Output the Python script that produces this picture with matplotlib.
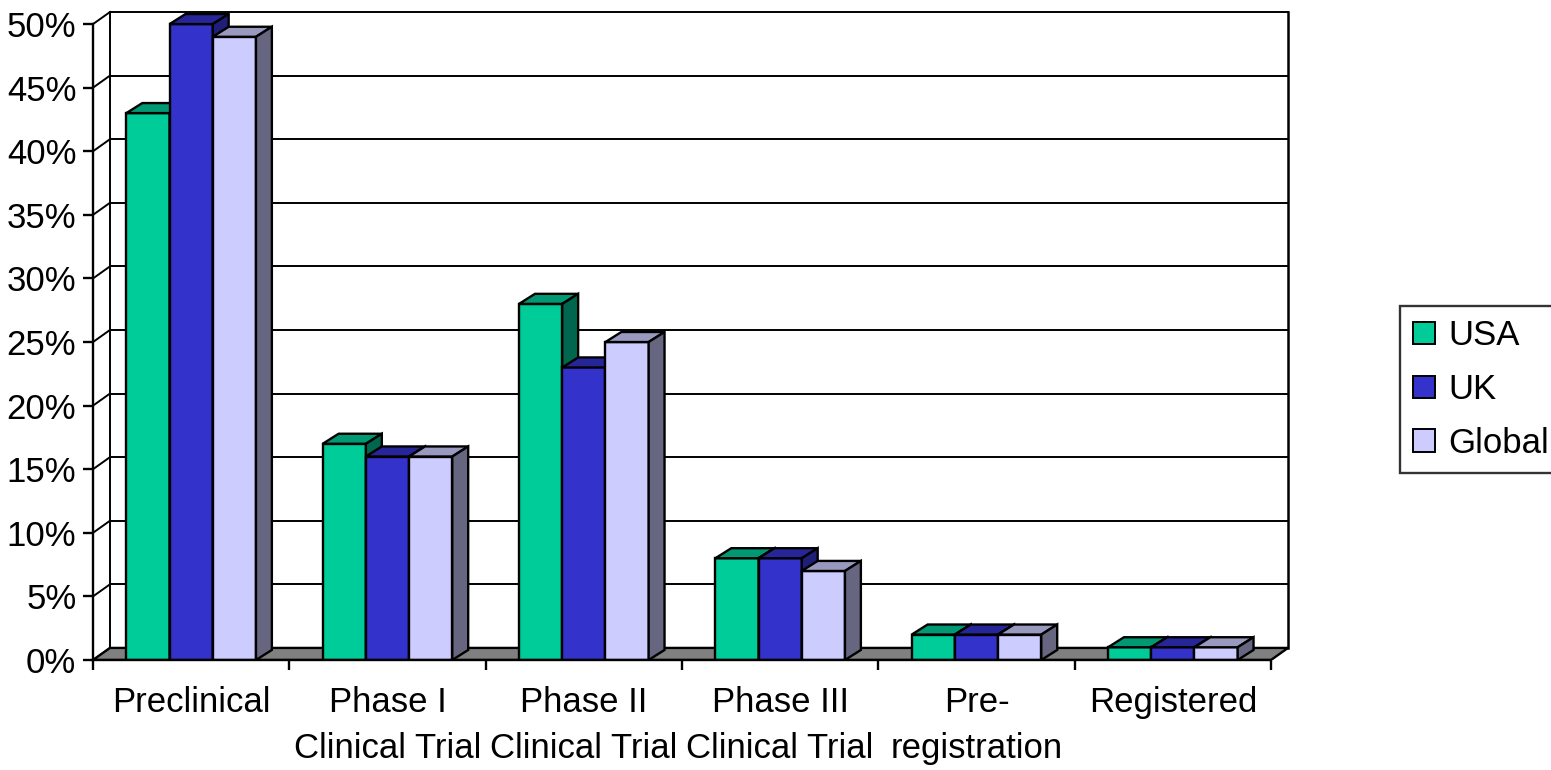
import matplotlib
matplotlib.use("Agg")
import matplotlib.pyplot as plt
from matplotlib.patches import Polygon, Patch
from matplotlib.ticker import FixedLocator

plt.rcParams['font.family'] = ['Liberation Sans', 'DejaVu Sans']

# Data
categories = ["Preclinical", "Phase I\nClinical Trial", "Phase II\nClinical Trial",
              "Phase III\nClinical Trial", "Pre-\nregistration", "Registered"]
series_names = ["USA", "UK", "Global"]
usa = [43, 17, 28, 8, 2, 1]
uk = [50, 16, 23, 8, 2, 1]
glob = [49, 16, 25, 7, 2, 1]
y_ticks = [0, 5, 10, 15, 20, 25, 30, 35, 40, 45, 50]

# face colours: front, top, side
colors = {
    "USA": ("#00CC99", "#009973", "#00664D"),
    "UK": ("#3333CC", "#262699", "#1F1F7A"),
    "Global": ("#CCCCFF", "#9999BF", "#666680"),
}

# 3d offsets in data units
DX, DY = 0.0865, 0.95      # walls / floor
BDX, BDY = 0.081, 0.79     # bars
bar_w = 0.22
group_start = 0.17

fig = plt.figure(figsize=(15.51, 7.70), dpi=100)
ax = fig.add_axes([93 / 1551, 110 / 770, 1195 / 1551, 648 / 770])
ax.set_xlim(0, 6 + DX)
ax.set_ylim(0, 50 + DY)
n = len(categories)
lw = 1.7

# walls: gridlines on left and back wall
for v in y_ticks:
    ax.plot([0, DX], [v, v + DY], color="black", lw=1.4, zorder=1, clip_on=False)
    ax.plot([DX, n + DX], [v + DY, v + DY], color="black", lw=1.4, zorder=1, clip_on=False)
ax.plot([DX, DX], [DY, 50 + DY], color="black", lw=1.4, zorder=1, clip_on=False)
ax.plot([n + DX, n + DX], [DY, 50 + DY], color="black", lw=1.8, zorder=1, clip_on=False)

# floor
floor = Polygon([(0, 0), (n, 0), (n + DX, DY), (DX, DY)], closed=True,
                facecolor="#808080", edgecolor="black", lw=lw, zorder=2)
ax.add_patch(floor)

# bars
all_vals = [usa, uk, glob]
for i in range(n):
    for j, name in enumerate(series_names):
        v = all_vals[j][i]
        front_c, top_c, side_c = colors[name]
        x0 = i + group_start + j * bar_w
        x1 = x0 + bar_w
        z = 3 + i * 3 + j
        front = Polygon([(x0, 0), (x1, 0), (x1, v), (x0, v)], closed=True,
                        facecolor=front_c, edgecolor="black", lw=lw, zorder=z,
                        joinstyle="miter")
        top = Polygon([(x0, v), (x1, v), (x1 + BDX, v + BDY), (x0 + BDX, v + BDY)],
                      closed=True, facecolor=top_c, edgecolor="black", lw=lw, zorder=z,
                      joinstyle="miter")
        side = Polygon([(x1, 0), (x1 + BDX, BDY), (x1 + BDX, v + BDY), (x1, v)],
                       closed=True, facecolor=side_c, edgecolor="black", lw=lw, zorder=z,
                       joinstyle="miter")
        ax.add_patch(front)
        ax.add_patch(top)
        ax.add_patch(side)

# axes
for s in ["top", "right"]:
    ax.spines[s].set_visible(False)
ax.spines["left"].set_bounds(0, 50)
ax.spines["bottom"].set_bounds(0, n)
for s in ["left", "bottom"]:
    ax.spines[s].set_linewidth(1.7)
    ax.spines[s].set_zorder(50)

ax.set_yticks(y_ticks)
ax.set_yticklabels([f"{t}%" for t in y_ticks])
ax.set_xticks(range(n + 1))
ax.set_xticklabels([])
ax.xaxis.set_minor_locator(FixedLocator([i + 0.5 for i in range(n)]))
ax.set_xticklabels(categories, minor=True)
ax.tick_params(axis="both", which="major", direction="out", length=7, width=1.7,
               labelsize=25, color="black")
ax.tick_params(axis="y", pad=5)
ax.tick_params(axis="x", which="minor", length=0, pad=19, labelsize=25)
for lab in ax.get_xticklabels(minor=True):
    lab.set_linespacing(1.48)

# legend
handles = [Patch(facecolor=colors[s][0], edgecolor="black", lw=1.4) for s in series_names]
leg = fig.legend(handles, series_names, loc="upper left",
                 bbox_to_anchor=(1400 / 1551, 1 - 306 / 770), fontsize=25,
                 frameon=True, fancybox=False, borderpad=0.38, handlelength=0.62,
                 handleheight=0.62, handletextpad=0.38, labelspacing=0.6,
                 borderaxespad=0)
leg.get_frame().set_edgecolor("black")
leg.get_frame().set_linewidth(1.7)

fig.savefig("out.png", dpi=100)
